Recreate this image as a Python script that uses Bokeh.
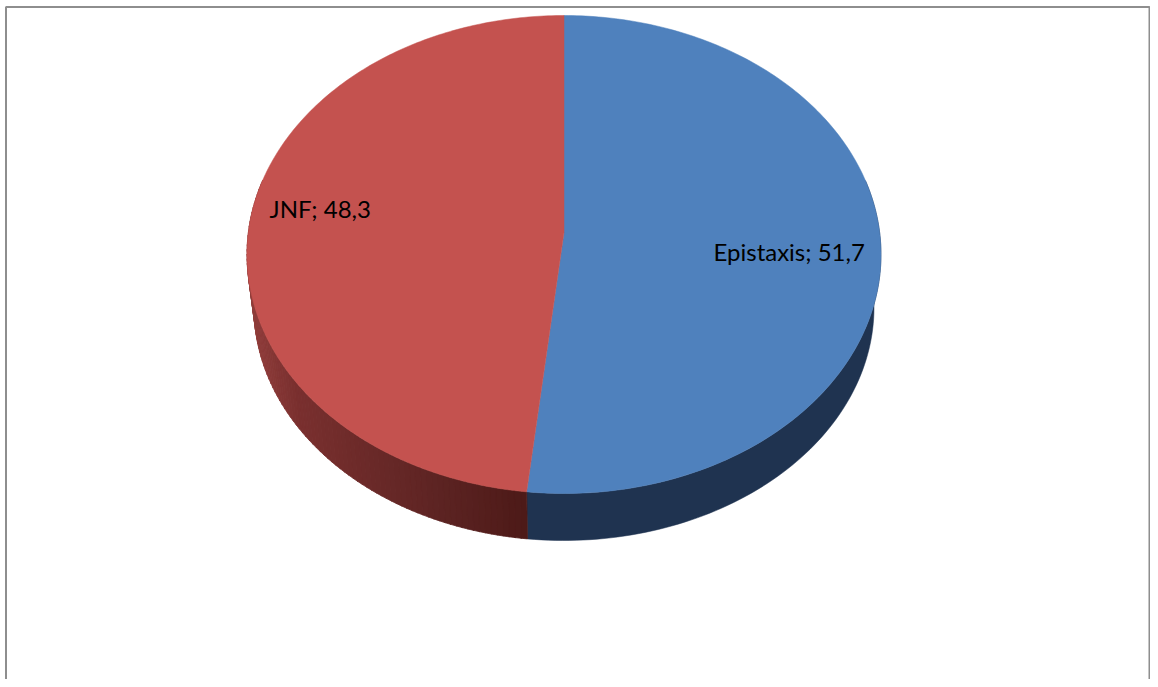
import numpy as np
from bokeh.plotting import figure
from bokeh.models import Range1d
from bokeh.core.properties import value
from bokeh.embed import file_html
from bokeh.resources import INLINE

categories = ["Epistaxis", "JNF"]
values = [51.7, 48.3]
value_labels = ["51,7", "48,3"]
top_colors = ["#4f81bd", "#c4524f"]
side_blue = "#1f3350"
red_stops_x = [252, 300, 430, 527]
red_stops_rgb = [(146, 62, 60), (122, 48, 47), (95, 37, 36), (77, 26, 24)]

W, H = 1150, 679
CX, CY, RX, RY = 563.5, 254.0, 317.0, 239.0     # top rim
BCY, BRX, BRY = 307.0, 310.0, 233.0             # bottom rim
APEX = (563.5, 232.0)
PERSPECTIVE = np.radians(0.65)                  # apparent angle shift of the tilted disc

p = figure(width=W, height=H, output_backend="svg", toolbar_location=None,
           x_range=Range1d(0, W), y_range=Range1d(H, 0), min_border=0,
           background_fill_color="white", border_fill_color="white",
           outline_line_color=None)
p.axis.visible = False
p.grid.visible = False

def top_rim(t):
    return CX + RX * np.sin(t), CY - RY * np.cos(t)

def bot_rim(t):
    return CX + BRX * np.sin(t), BCY - BRY * np.cos(t)

fracs = np.cumsum([0] + values) / sum(values) * 2 * np.pi
fracs = fracs + PERSPECTIVE * np.sin(fracs / 2)
split = fracs[1]

# side wall: blue part (from right silhouette to the boundary)
t = np.linspace(np.pi * 0.40, split, 90)
xt, yt = top_rim(t)
xb, yb = bot_rim(t)
p.patch(np.r_[xt, xb[::-1]], np.r_[yt, yb[::-1]], fill_color=side_blue, line_color=side_blue, line_width=0.5)

# side wall: red part, shaded strip by strip
edges = np.linspace(split, np.pi * 1.60, 91)
for a, b in zip(edges[:-1], edges[1:]):
    ts = np.array([a, b + 0.002])
    xt, yt = top_rim(ts)
    xb, yb = bot_rim(ts)
    xm = float(xb.mean())
    rgb = [int(np.interp(xm, red_stops_x, [s[i] for s in red_stops_rgb])) for i in range(3)]
    col = "#%02x%02x%02x" % tuple(rgb)
    p.patch(np.r_[xt, xb[::-1]], np.r_[yt, yb[::-1]], fill_color=col, line_color=col, line_width=0.8)

# top face
for i in range(2):
    t = np.linspace(fracs[i], fracs[i + 1], 240)
    x, y = top_rim(t)
    p.patch(np.r_[APEX[0], x], np.r_[APEX[1], y], fill_color=top_colors[i], line_color=top_colors[i], line_width=0.5)

# labels
label_x = [713, 269]
label_y = [251, 208]
labels = [f"{c}; {v}" for c, v in zip(categories, value_labels)]
p.text(label_x, label_y, text=labels, text_font=value("Lato"), text_font_size="24px",
       text_color="#000000", text_baseline="middle", text_align="left")

# chart frame
p.line([5.5, 5.5, W - 1, W - 1], [H, 6.5, 6.5, H], line_color="#8e8e8e", line_width=2)

open("out.html", "w").write(file_html(p, INLINE))
